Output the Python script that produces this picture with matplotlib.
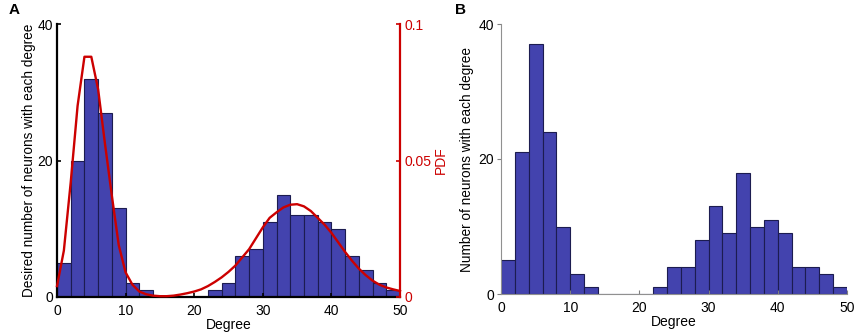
import numpy as np
import matplotlib
matplotlib.use('Agg')
import matplotlib.pyplot as plt

plt.rcParams['font.family'] = ['Liberation Sans', 'DejaVu Sans']

# bin edges (degree), width 2
bin_left = [0, 2, 4, 6, 8, 10, 12, 14, 16, 18, 20, 22, 24,
            26, 28, 30, 32, 34, 36, 38, 40, 42, 44, 46, 48]

# panel A: desired number of neurons with each degree
counts_a = [5, 20, 32, 27, 13, 2, 1, 0, 0, 0, 0, 1, 2,
            6, 7, 11, 15, 12, 12, 11, 10, 6, 4, 2, 1]

# panel B: realised number of neurons with each degree
counts_b = [5, 21, 37, 24, 10, 3, 1, 0, 0, 0, 0, 1, 4,
            4, 8, 13, 9, 18, 10, 11, 9, 4, 4, 3, 1]

# PDF sampled at integer degrees 0..50
pdf_x = list(range(51))
pdf_y = [0.004, 0.017, 0.042, 0.070, 0.088, 0.088, 0.076, 0.056, 0.037, 0.019,
         0.009, 0.0045, 0.002, 0.001, 0.0005, 0.0003, 0.0003, 0.0005, 0.0009, 0.0014,
         0.002, 0.0028, 0.004, 0.0055, 0.0072, 0.0092, 0.0115, 0.0145, 0.0175, 0.0215,
         0.0255, 0.029, 0.031, 0.0328, 0.0338, 0.034, 0.0332, 0.0315, 0.029, 0.0265,
         0.0235, 0.020, 0.0165, 0.0133, 0.0104, 0.008, 0.006, 0.0045, 0.0035, 0.0028,
         0.0022]

bar_color = '#4343ae'
edge_color = '#1c1c50'
red = '#cc0000'

fig = plt.figure(figsize=(8.56, 3.36), dpi=100)

# ---- panel A ----
axA = fig.add_axes([57/856, 39/336, 343/856, 273/336])
axA.bar(bin_left, counts_a, width=2, align='edge', color=bar_color,
        edgecolor=edge_color, linewidth=0.8)
axA.set_xlim(0, 50)
axA.set_ylim(0, 40)
axA.set_xticks([0, 10, 20, 30, 40, 50])
axA.set_yticks([0, 20, 40])
axA.tick_params(axis='x', direction='in', labelsize=10, length=3, width=1.2, pad=5)
axA.tick_params(axis='y', direction='in', labelsize=10, length=3, width=1.2, pad=3)
axA.spines['top'].set_visible(False)
axA.spines['right'].set_visible(False)
axA.spines['left'].set_linewidth(1.6)
axA.spines['bottom'].set_linewidth(1.6)
axA.set_xlabel('Degree', fontsize=10, labelpad=0)
axA.set_ylabel('Desired number of neurons with each degree', fontsize=9.8, labelpad=1)

axR = axA.twinx()
axR.plot(pdf_x, pdf_y, color=red, linewidth=1.7, clip_on=False)
axR.set_ylim(0, 0.1)
axR.set_yticks([0, 0.05, 0.1])
axR.set_yticklabels(['0', '0.05', '0.1'])
axR.tick_params(direction='in', labelsize=10, length=3, width=1.2, colors=red, pad=3)
for s in ['top', 'left', 'bottom']:
    axR.spines[s].set_visible(False)
axR.spines['right'].set_color(red)
axR.spines['right'].set_linewidth(1.6)
axR.set_ylabel('PDF', color=red, fontsize=10, labelpad=2)

fig.text(9/856, 1 - 10/336, 'A', fontsize=11, fontweight='bold', va='center', ha='left')

# ---- panel B ----
axB = fig.add_axes([501/856, 42/336, 346/856, 270/336])
axB.bar(bin_left, counts_b, width=2, align='edge', color=bar_color,
        edgecolor=edge_color, linewidth=0.8)
axB.set_xlim(0, 50)
axB.set_ylim(0, 40)
axB.set_xticks([0, 10, 20, 30, 40, 50])
axB.set_yticks([0, 20, 40])
axB.tick_params(axis='x', direction='in', labelsize=10, length=3, color='#808080', pad=5)
axB.tick_params(axis='y', direction='out', labelsize=10, length=3, color='#808080', pad=2)
axB.spines['top'].set_visible(False)
axB.spines['right'].set_visible(False)
axB.spines['left'].set_color('#909090')
axB.spines['bottom'].set_color('#909090')
axB.set_xlabel('Degree', fontsize=10, labelpad=0)
axB.set_ylabel('Number of neurons with each degree', fontsize=9.8, labelpad=3)

fig.text(455/856, 1 - 10/336, 'B', fontsize=11, fontweight='bold', va='center', ha='left')

fig.savefig('out.png', dpi=100)
